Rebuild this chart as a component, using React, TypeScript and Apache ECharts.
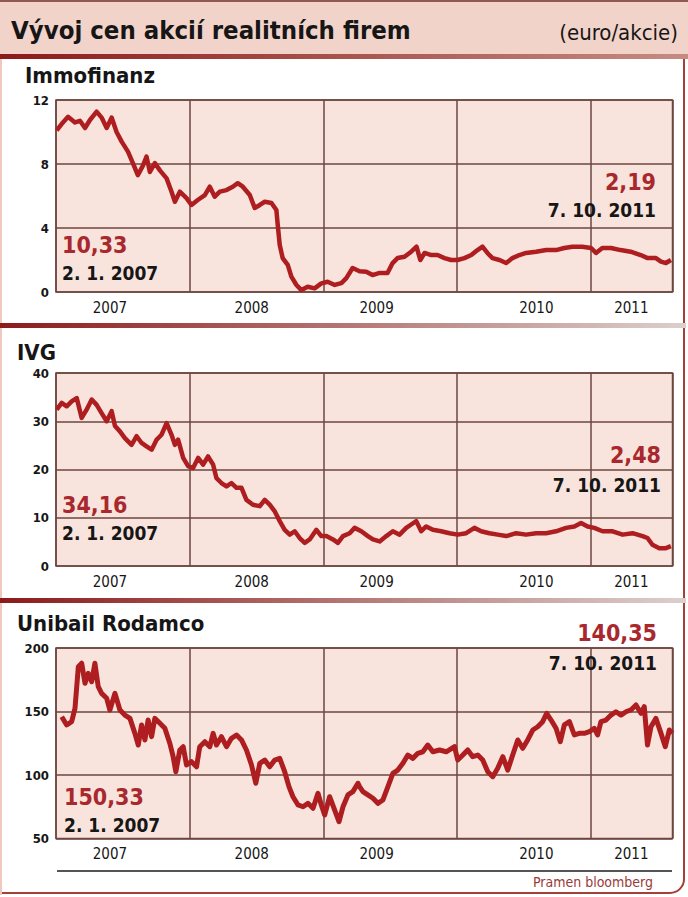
import React, { useEffect, useRef } from "react";
import * as echarts from "echarts";

// ---------- DATA ----------
const TITLE = "Vývoj cen akcií realitních firem";
const UNIT = "(euro/akcie)";
const SOURCE = "Pramen bloomberg";
const PANEL_NAMES = ["Immofinanz", "IVG", "Unibail Rodamco"];
const START_VALUES = ["10,33", "34,16", "150,33"];
const END_VALUES = ["2,19", "2,48", "140,35"];
const START_DATE = "2. 1. 2007";
const END_DATE = "7. 10. 2011";

const X_MIN = 2007;
const X_MAX = 2011.61;
const YEAR_LABEL_POS = [2007.403, 2008.464, 2009.397, 2010.592, 2011.302];

const Y_RANGES = [
  { min: 0, max: 12, interval: 4 },
  { min: 0, max: 40, interval: 10 },
  { min: 50, max: 200, interval: 50 },
];

const immofinanz: [number, number][] = [
  [2007.005, 10.1], [2007.052, 10.6], [2007.09, 10.95], [2007.142, 10.6], [2007.179, 10.7],
  [2007.217, 10.25], [2007.254, 10.75], [2007.304, 11.27], [2007.341, 10.9], [2007.379, 10.25],
  [2007.416, 10.9], [2007.453, 10.0], [2007.491, 9.4], [2007.538, 8.77], [2007.575, 8.06],
  [2007.612, 7.3], [2007.65, 7.9], [2007.677, 8.46], [2007.702, 7.5], [2007.739, 8.06],
  [2007.777, 7.6], [2007.827, 7.1], [2007.864, 6.27], [2007.889, 5.64], [2007.926, 6.27],
  [2007.976, 5.87], [2008.013, 5.44], [2008.06, 5.75], [2008.113, 6.06], [2008.15, 6.58],
  [2008.187, 5.96], [2008.225, 6.27], [2008.275, 6.37], [2008.322, 6.58], [2008.359, 6.8],
  [2008.397, 6.58], [2008.449, 6.06], [2008.486, 5.25], [2008.524, 5.44], [2008.561, 5.64],
  [2008.611, 5.56], [2008.648, 5.12], [2008.658, 4.2], [2008.673, 2.94], [2008.695, 2.12],
  [2008.733, 1.69], [2008.76, 0.96], [2008.798, 0.44], [2008.835, 0.12], [2008.882, 0.33],
  [2008.934, 0.23], [2008.984, 0.54], [2009.031, 0.64], [2009.084, 0.44], [2009.134, 0.56],
  [2009.171, 0.87], [2009.218, 1.5], [2009.27, 1.3], [2009.32, 1.27], [2009.367, 1.06],
  [2009.42, 1.19], [2009.479, 1.19], [2009.517, 1.81], [2009.554, 2.12], [2009.606, 2.2],
  [2009.656, 2.52], [2009.696, 2.83], [2009.724, 2.0], [2009.756, 2.44], [2009.806, 2.31],
  [2009.853, 2.31], [2009.905, 2.12], [2009.955, 2.0], [2010.002, 2.0], [2010.054, 2.12],
  [2010.105, 2.31], [2010.152, 2.62], [2010.189, 2.83], [2010.226, 2.44], [2010.264, 2.12],
  [2010.316, 2.0], [2010.366, 1.81], [2010.413, 2.12], [2010.465, 2.31], [2010.515, 2.44],
  [2010.59, 2.52], [2010.665, 2.62], [2010.739, 2.62], [2010.801, 2.75], [2010.861, 2.83],
  [2010.935, 2.83], [2011.001, 2.75], [2011.038, 2.44], [2011.085, 2.75], [2011.15, 2.75],
  [2011.222, 2.62], [2011.297, 2.52], [2011.372, 2.31], [2011.424, 2.12], [2011.486, 2.12],
  [2011.524, 1.9], [2011.561, 1.81], [2011.598, 2.0],
];

const ivg: [number, number][] = [
  [2007.005, 32.4], [2007.043, 33.8], [2007.08, 33.1], [2007.117, 34.1], [2007.155, 34.8],
  [2007.192, 30.7], [2007.229, 32.4], [2007.267, 34.5], [2007.304, 33.4], [2007.341, 31.7],
  [2007.379, 30.0], [2007.416, 32.1], [2007.441, 29.0], [2007.478, 27.9], [2007.515, 26.5],
  [2007.565, 25.1], [2007.603, 26.9], [2007.64, 25.5], [2007.677, 24.8], [2007.715, 24.1],
  [2007.753, 26.2], [2007.789, 27.2], [2007.827, 29.6], [2007.864, 27.2], [2007.889, 25.1],
  [2007.913, 26.2], [2007.951, 22.4], [2007.988, 20.7], [2008.025, 20.3], [2008.063, 22.4],
  [2008.1, 21.0], [2008.137, 22.7], [2008.175, 21.0], [2008.2, 18.2], [2008.237, 17.2],
  [2008.275, 16.5], [2008.312, 17.2], [2008.35, 16.2], [2008.387, 16.2], [2008.424, 13.7],
  [2008.473, 12.7], [2008.524, 12.4], [2008.561, 13.7], [2008.598, 12.7], [2008.636, 11.3],
  [2008.673, 9.3], [2008.71, 7.5], [2008.748, 6.5], [2008.785, 7.2], [2008.822, 5.8],
  [2008.86, 4.8], [2008.897, 5.5], [2008.947, 7.5], [2008.984, 6.2], [2009.022, 6.2],
  [2009.071, 5.5], [2009.108, 4.8], [2009.146, 6.2], [2009.196, 6.8], [2009.233, 7.9],
  [2009.283, 7.2], [2009.332, 6.2], [2009.37, 5.5], [2009.42, 5.1], [2009.47, 6.2],
  [2009.519, 7.2], [2009.569, 6.5], [2009.619, 7.9], [2009.656, 8.6], [2009.694, 9.3],
  [2009.731, 7.2], [2009.768, 8.2], [2009.818, 7.5], [2009.88, 7.2], [2009.943, 6.8],
  [2010.004, 6.5], [2010.067, 6.8], [2010.129, 7.9], [2010.179, 7.2], [2010.241, 6.8],
  [2010.303, 6.5], [2010.366, 6.2], [2010.441, 6.8], [2010.515, 6.5], [2010.59, 6.8],
  [2010.665, 6.8], [2010.739, 7.2], [2010.814, 7.9], [2010.876, 8.2], [2010.926, 8.9],
  [2010.975, 8.2], [2011.025, 7.9], [2011.087, 7.2], [2011.162, 7.2], [2011.237, 6.5],
  [2011.311, 6.8], [2011.386, 6.2], [2011.423, 5.8], [2011.46, 4.4], [2011.511, 3.7],
  [2011.561, 3.7], [2011.598, 4.1],
];

const unibail: [number, number][] = [
  [2007.043, 145.9], [2007.08, 139.4], [2007.117, 142], [2007.142, 152.5], [2007.167, 185.3],
  [2007.192, 188], [2007.217, 172.2], [2007.241, 180], [2007.267, 173.5], [2007.291, 188],
  [2007.316, 169.5], [2007.341, 164.3], [2007.379, 160.4], [2007.403, 151.2], [2007.441, 164.3],
  [2007.478, 151.2], [2007.515, 147.2], [2007.553, 144.6], [2007.59, 132.8], [2007.615, 123.6],
  [2007.64, 139.4], [2007.665, 127.6], [2007.689, 143.3], [2007.715, 130.2], [2007.739, 144.6],
  [2007.777, 140.7], [2007.814, 136.8], [2007.851, 125], [2007.876, 114.4], [2007.896, 102.6],
  [2007.926, 119.7], [2007.951, 122.3], [2007.976, 107.9], [2008.013, 110.5], [2008.051, 106.5],
  [2008.075, 122.3], [2008.113, 126.2], [2008.15, 122.3], [2008.175, 132.8], [2008.2, 123.6],
  [2008.237, 130.2], [2008.275, 122.3], [2008.312, 128.9], [2008.35, 131.5], [2008.387, 127.6],
  [2008.424, 119.7], [2008.462, 107.9], [2008.494, 93.5], [2008.524, 109.2], [2008.561, 111.8],
  [2008.598, 106.5], [2008.636, 111.8], [2008.673, 113.1], [2008.71, 102.6], [2008.742, 90.8],
  [2008.772, 82.9], [2008.81, 76.4], [2008.847, 75], [2008.884, 77.7], [2008.922, 73.8],
  [2008.959, 85.6], [2008.984, 76.4], [2009.009, 68.5], [2009.046, 82.9], [2009.084, 72.4],
  [2009.116, 63.2], [2009.146, 75], [2009.183, 84.3], [2009.22, 86.9], [2009.258, 93.5],
  [2009.27, 90.8], [2009.295, 86.9], [2009.332, 84.3], [2009.37, 81.7], [2009.407, 77.7],
  [2009.444, 80.3], [2009.482, 90.8], [2009.519, 101.3], [2009.556, 103.9], [2009.594, 109.2],
  [2009.631, 115.7], [2009.668, 113.1], [2009.706, 117.1], [2009.743, 118.3], [2009.78, 123.6],
  [2009.818, 118.3], [2009.868, 119.7], [2009.918, 118.3], [2009.98, 122.3], [2010.004, 111.8],
  [2010.042, 115.7], [2010.079, 119.7], [2010.116, 114.4], [2010.154, 115.7], [2010.191, 111.8],
  [2010.229, 102.6], [2010.266, 98.7], [2010.303, 105.3], [2010.341, 114.4], [2010.378, 103.9],
  [2010.415, 115.7], [2010.453, 127.6], [2010.49, 121], [2010.527, 127.6], [2010.565, 135.4],
  [2010.602, 138], [2010.639, 142], [2010.669, 148.6], [2010.702, 143.3], [2010.739, 136.8],
  [2010.771, 126.2], [2010.801, 139.4], [2010.839, 142], [2010.876, 131.5], [2010.913, 132.8],
  [2010.951, 132.8], [2010.988, 134.1], [2011.025, 136.8], [2011.05, 131.5], [2011.075, 142],
  [2011.113, 143.3], [2011.15, 147.2], [2011.187, 149.8], [2011.225, 147.2], [2011.262, 149.8],
  [2011.299, 151.2], [2011.337, 155.1], [2011.374, 148.6], [2011.399, 153.8], [2011.423, 123.6],
  [2011.449, 138], [2011.486, 144.6], [2011.524, 132.8], [2011.556, 122.3], [2011.586, 135.4],
  [2011.61, 132.8],
];

const SERIES_DATA = [immofinanz, ivg, unibail];

// ---------- STYLE ----------
const FONT = "'DejaVu Sans Condensed', 'DejaVu Sans', sans-serif";
const PLOT_BG = "#f8e4dc";
const GRID_COLOR = "#6e4640";
const LINE_COLOR = "#ae1d1f";
const ANNO_RED = "#a8282d";
const TEXT_DARK = "#161616";

const GRIDS = [
  { top: 100, height: 192 },
  { top: 373, height: 193 },
  { top: 648, height: 190.5 },
];

export default function App() {
  const ref = useRef<HTMLDivElement>(null);

  useEffect(() => {
    document.body.style.margin = "0";
    if (!ref.current) return;
    const chart = echarts.init(ref.current, undefined, { renderer: "svg" });

    const grid = GRIDS.map((g) => ({
      left: 56,
      top: g.top,
      width: 616.5,
      height: g.height,
      show: true,
      backgroundColor: PLOT_BG,
      borderColor: GRID_COLOR,
      borderWidth: 1.5,
      containLabel: false,
    }));

    const xAxis = GRIDS.map((_, i) => ({
      type: "value",
      gridIndex: i,
      min: X_MIN,
      max: X_MAX,
      interval: 1,
      axisLine: { show: false },
      axisTick: { show: false },
      splitLine: { show: true, lineStyle: { color: GRID_COLOR, width: 1.5 } },
      axisLabel: {
        customValues: YEAR_LABEL_POS,
        formatter: (v: number) => String(Math.floor(v + 1e-6)),
        fontFamily: FONT,
        fontSize: 15,
        color: TEXT_DARK,
        margin: 8,
      },
    }));

    const yAxis = Y_RANGES.map((r, i) => ({
      type: "value",
      gridIndex: i,
      min: r.min,
      max: r.max,
      interval: r.interval,
      axisLine: { show: false },
      axisTick: { show: false },
      splitLine: { show: true, lineStyle: { color: GRID_COLOR, width: 1.5 } },
      axisLabel: {
        fontFamily: FONT,
        fontSize: 13,
        fontWeight: "bold",
        color: TEXT_DARK,
        margin: 7,
      },
    }));

    const series = SERIES_DATA.map((d, i) => ({
      type: "line",
      name: PANEL_NAMES[i],
      xAxisIndex: i,
      yAxisIndex: i,
      data: d,
      showSymbol: false,
      symbol: "none",
      lineStyle: { color: LINE_COLOR, width: i === 2 ? 5 : 4.5, join: "round" },
      z: 3,
    }));

    const sepGradient = (c1: string, c2: string) => ({
      type: "linear",
      x: 0,
      y: 0,
      x2: 1,
      y2: 0,
      colorStops: [
        { offset: 0, color: c1 },
        { offset: 1, color: c2 },
      ],
    });

    const txt = (
      text: string,
      x: number,
      y: number,
      opts: { size: number; weight?: string; color?: string; align?: string }
    ) => ({
      type: "text",
      x,
      y,
      z: 10,
      style: {
        text,
        fontFamily: FONT,
        fontSize: opts.size,
        fontWeight: opts.weight || "bold",
        fill: opts.color || TEXT_DARK,
        textAlign: opts.align || "left",
        textVerticalAlign: "middle",
      },
    });

    const annoStart = [
      { vy: 245, dy: 273, x: 62 },
      { vy: 505, dy: 533, x: 62 },
      { vy: 797, dy: 825, x: 64 },
    ];
    const annoEnd = [
      { vy: 182, dy: 210, x: 656 },
      { vy: 455, dy: 485, x: 661 },
      { vy: 633, dy: 663, x: 657 },
    ];
    const nameY = [75, 352, 623];
    const nameX = [25, 17, 17];

    const graphic: any[] = [
      { type: "rect", z: 1, shape: { x: 0, y: 0, width: 688, height: 55 }, style: { fill: "#f2d3c9" } },
      { type: "rect", z: 2, shape: { x: 0, y: 0, width: 688, height: 2 }, style: { fill: "#8f5a52" } },
      {
        type: "rect",
        z: 2,
        shape: { x: 0, y: 54, width: 688, height: 5 },
        style: { fill: sepGradient("#8c1a1a", "#c58c82") },
      },
      {
        type: "rect",
        z: 2,
        shape: { x: 0, y: 323, width: 686, height: 5 },
        style: { fill: sepGradient("#8c1a1a", "#dcd0cc") },
      },
      {
        type: "rect",
        z: 2,
        shape: { x: 0, y: 598, width: 686, height: 5 },
        style: { fill: sepGradient("#8c1a1a", "#dcd0cc") },
      },
      {
        type: "rect",
        z: 0,
        shape: { x: -10, y: -10, width: 694, height: 903, r: [0, 0, 14, 0] },
        style: { fill: "none", stroke: "#a4403a", lineWidth: 2 },
      },
      { type: "rect", z: 0, shape: { x: 0, y: 59, width: 2, height: 836 }, style: { fill: "#f0c8c0" } },
      {
        type: "line",
        z: 2,
        shape: { x1: 57, y1: 871, x2: 672, y2: 871 },
        style: { stroke: "#555555", lineWidth: 2 },
      },
      txt(TITLE, 11, 30, { size: 25.5 }),
      txt(UNIT, 678, 32, { size: 22, weight: "normal", align: "right" }),
      txt(SOURCE, 653, 882, { size: 14, weight: "normal", color: "#9a3a3a", align: "right" }),
    ];

    PANEL_NAMES.forEach((n, i) => {
      graphic.push(txt(n, nameX[i], nameY[i], { size: 22 }));
      graphic.push(txt(START_VALUES[i], annoStart[i].x, annoStart[i].vy, { size: 23, color: ANNO_RED }));
      graphic.push(txt(START_DATE, annoStart[i].x, annoStart[i].dy, { size: 19 }));
      graphic.push(txt(END_VALUES[i], annoEnd[i].x, annoEnd[i].vy, { size: 23, color: ANNO_RED, align: "right" }));
      graphic.push(txt(END_DATE, annoEnd[i].x, annoEnd[i].dy, { size: 19, align: "right" }));
    });

    chart.setOption({
      animation: false,
      backgroundColor: "#ffffff",
      grid,
      xAxis,
      yAxis,
      series,
      graphic,
    } as any);

    return () => chart.dispose();
  }, []);

  return <div ref={ref} style={{ width: 688, height: 897 }} />;
}
